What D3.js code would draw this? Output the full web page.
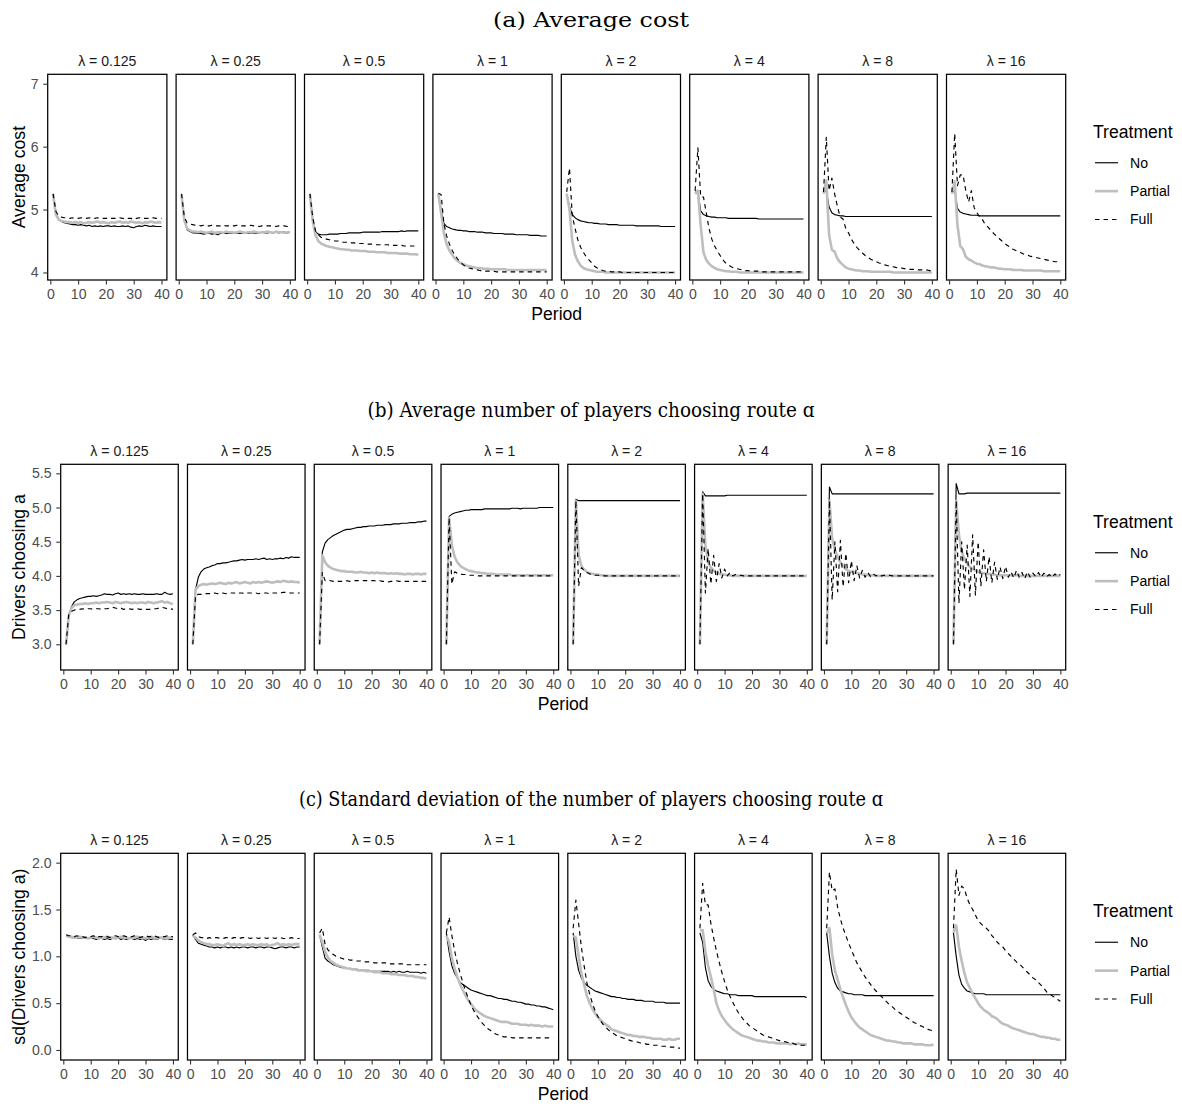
<!DOCTYPE html>
<html><head><meta charset="utf-8">
<script src="https://cdn.jsdelivr.net/npm/d3@7"></script>
<style>body{margin:0;background:#fff} svg{display:block}</style>
</head><body><svg id="chart" width="1182" height="1106"></svg>
<script>
const periods = [1,2,3,4,5,6,7,8,9,10,11,12,13,14,15,16,17,18,19,20,21,22,23,24,25,26,27,28,29,30,31,32,33,34,35,36,37,38,39,40];
const lambdaLabels = ["0.125","0.25","0.5","1","2","4","8","16"];
const treatments = ["No","Partial","Full"];
const xTicks = [0,10,20,30,40];
const yTicksCost = [4,5,6,7];
const yTicksChoice = [3.0,3.5,4.0,4.5,5.0,5.5];
const yTicksSd = [0.0,0.5,1.0,1.5,2.0];
const rowTitles = ["(a) Average cost","(b) Average number of players choosing route \u0251","(c) Standard deviation of the number of players choosing route \u0251"];
const yTitles = ["Average cost","Drivers choosing a","sd(Drivers choosing a)"];

// ---------- (a) Average cost ----------
const costNo = [
[5.25,4.95,4.85,4.81,4.79,4.78,4.77,4.76,4.76,4.75,4.76,4.75,4.74,4.75,4.73,4.74,4.73,4.74,4.73,4.74,4.74,4.73,4.74,4.73,4.73,4.74,4.73,4.74,4.72,4.71,4.73,4.74,4.73,4.75,4.74,4.73,4.74,4.73,4.73,4.73],
[5.25,4.85,4.68,4.65,4.63,4.63,4.62,4.62,4.61,4.62,4.62,4.61,4.62,4.60,4.62,4.63,4.62,4.62,4.63,4.62,4.63,4.62,4.63,4.63,4.62,4.63,4.63,4.62,4.63,4.64,4.63,4.63,4.64,4.63,4.64,4.63,4.64,4.64,4.63,4.64],
[5.25,4.85,4.65,4.61,4.60,4.60,4.60,4.61,4.61,4.61,4.61,4.62,4.62,4.62,4.63,4.63,4.63,4.63,4.63,4.64,4.64,4.64,4.64,4.64,4.64,4.64,4.65,4.65,4.65,4.65,4.65,4.65,4.65,4.66,4.65,4.66,4.66,4.66,4.66,4.66],
[5.25,5.00,4.78,4.73,4.71,4.69,4.68,4.67,4.67,4.66,4.66,4.65,4.65,4.65,4.64,4.64,4.64,4.63,4.63,4.63,4.62,4.62,4.62,4.62,4.61,4.61,4.61,4.61,4.60,4.60,4.60,4.60,4.60,4.59,4.59,4.59,4.59,4.58,4.58,4.58],
[5.25,5.05,4.92,4.87,4.84,4.82,4.81,4.80,4.79,4.79,4.78,4.78,4.77,4.77,4.77,4.76,4.76,4.76,4.76,4.75,4.75,4.75,4.75,4.75,4.75,4.74,4.74,4.74,4.74,4.74,4.74,4.74,4.74,4.74,4.73,4.73,4.73,4.73,4.73,4.73],
[5.30,5.28,4.98,4.92,4.90,4.89,4.88,4.88,4.87,4.87,4.87,4.87,4.86,4.86,4.86,4.86,4.86,4.86,4.86,4.86,4.86,4.86,4.86,4.85,4.85,4.85,4.85,4.85,4.85,4.85,4.85,4.85,4.85,4.85,4.85,4.85,4.85,4.85,4.85,4.85],
[5.27,5.30,5.04,4.95,4.92,4.91,4.90,4.90,4.89,4.89,4.89,4.89,4.89,4.89,4.89,4.89,4.89,4.89,4.89,4.89,4.89,4.89,4.89,4.89,4.89,4.89,4.89,4.89,4.89,4.89,4.89,4.89,4.89,4.89,4.89,4.89,4.89,4.89,4.89,4.89],
[5.27,5.30,5.02,4.96,4.94,4.93,4.92,4.91,4.91,4.91,4.90,4.90,4.90,4.90,4.90,4.90,4.90,4.90,4.90,4.90,4.90,4.90,4.90,4.90,4.90,4.90,4.90,4.90,4.90,4.90,4.90,4.90,4.90,4.90,4.90,4.90,4.90,4.90,4.90,4.90]
];
const costPartial = [
[5.24,4.92,4.84,4.82,4.81,4.80,4.80,4.79,4.80,4.79,4.80,4.78,4.79,4.80,4.79,4.80,4.81,4.79,4.80,4.79,4.78,4.80,4.79,4.80,4.81,4.79,4.80,4.79,4.81,4.80,4.79,4.80,4.78,4.80,4.79,4.81,4.80,4.79,4.80,4.79],
[5.24,4.83,4.70,4.67,4.65,4.65,4.64,4.65,4.64,4.63,4.64,4.65,4.63,4.64,4.64,4.63,4.65,4.64,4.64,4.63,4.64,4.65,4.64,4.63,4.64,4.64,4.65,4.64,4.63,4.64,4.64,4.65,4.64,4.63,4.65,4.64,4.64,4.63,4.64,4.64],
[5.24,4.82,4.60,4.50,4.46,4.44,4.42,4.41,4.40,4.39,4.38,4.37,4.37,4.36,4.36,4.35,4.35,4.35,4.34,4.34,4.34,4.33,4.33,4.33,4.32,4.32,4.32,4.32,4.31,4.31,4.31,4.31,4.30,4.30,4.30,4.30,4.29,4.29,4.29,4.28],
[5.25,4.95,4.62,4.45,4.35,4.28,4.22,4.18,4.15,4.13,4.11,4.10,4.09,4.08,4.07,4.07,4.06,4.06,4.06,4.05,4.05,4.05,4.05,4.05,4.05,4.04,4.04,4.04,4.04,4.04,4.04,4.04,4.04,4.04,4.04,4.04,4.04,4.04,4.04,4.04],
[5.25,5.00,4.50,4.28,4.18,4.11,4.07,4.05,4.04,4.03,4.02,4.01,4.01,4.01,4.00,4.00,4.00,4.00,4.00,4.00,4.00,4.00,4.00,4.00,4.00,4.00,4.00,4.00,4.00,4.00,4.00,4.00,4.00,4.00,4.00,4.00,4.00,4.00,4.00,4.00],
[5.25,5.30,4.75,4.32,4.20,4.14,4.10,4.07,4.05,4.04,4.03,4.02,4.02,4.01,4.01,4.01,4.00,4.00,4.00,4.00,4.00,4.00,4.00,4.00,4.00,4.00,4.00,4.00,4.00,4.00,4.00,4.00,4.00,4.00,4.00,4.00,4.00,4.00,4.00,4.00],
[5.25,5.46,4.60,4.36,4.33,4.22,4.16,4.12,4.08,4.06,4.05,4.04,4.03,4.03,4.02,4.02,4.02,4.01,4.01,4.01,4.01,4.01,4.01,4.01,4.01,4.00,4.00,4.00,4.00,4.00,4.00,4.00,4.00,4.00,4.00,4.00,4.00,4.00,4.00,4.00],
[5.25,5.45,4.75,4.42,4.37,4.25,4.21,4.19,4.16,4.14,4.13,4.11,4.10,4.09,4.08,4.08,4.07,4.06,4.06,4.05,4.05,4.05,4.04,4.04,4.04,4.04,4.03,4.03,4.03,4.03,4.03,4.03,4.03,4.02,4.02,4.02,4.02,4.02,4.02,4.02]
];
const costFull = [
[5.25,4.97,4.90,4.88,4.87,4.87,4.86,4.87,4.86,4.86,4.87,4.86,4.86,4.87,4.86,4.86,4.87,4.86,4.86,4.86,4.87,4.86,4.86,4.86,4.87,4.86,4.85,4.86,4.86,4.84,4.86,4.87,4.86,4.86,4.86,4.86,4.87,4.86,4.86,4.86],
[5.25,4.88,4.79,4.77,4.76,4.75,4.75,4.74,4.75,4.74,4.74,4.75,4.74,4.74,4.74,4.75,4.74,4.74,4.74,4.74,4.75,4.74,4.74,4.74,4.74,4.75,4.74,4.74,4.73,4.74,4.74,4.74,4.74,4.74,4.73,4.74,4.74,4.74,4.73,4.73],
[5.25,4.88,4.66,4.60,4.56,4.54,4.53,4.52,4.51,4.50,4.50,4.49,4.48,4.48,4.47,4.47,4.47,4.46,4.46,4.46,4.45,4.45,4.45,4.45,4.44,4.44,4.44,4.44,4.44,4.43,4.43,4.43,4.43,4.43,4.42,4.42,4.42,4.42,4.42,4.42],
[5.26,5.24,4.78,4.58,4.45,4.35,4.27,4.21,4.16,4.12,4.09,4.07,4.06,4.05,4.04,4.03,4.03,4.02,4.02,4.02,4.02,4.01,4.01,4.01,4.01,4.01,4.01,4.01,4.01,4.01,4.01,4.01,4.01,4.01,4.01,4.01,4.01,4.01,4.01,4.01],
[5.28,5.66,4.90,4.70,4.52,4.40,4.32,4.25,4.20,4.15,4.10,4.07,4.05,4.03,4.02,4.02,4.01,4.01,4.01,4.01,4.00,4.00,4.00,4.00,4.00,4.00,4.00,4.00,4.00,4.00,4.00,4.00,4.00,4.00,4.00,4.00,4.00,4.00,4.00,4.00],
[5.30,5.98,5.20,5.20,4.95,4.70,4.53,4.42,4.34,4.27,4.20,4.15,4.12,4.09,4.07,4.06,4.05,4.04,4.03,4.03,4.02,4.02,4.02,4.02,4.01,4.01,4.01,4.01,4.01,4.01,4.01,4.01,4.01,4.01,4.01,4.01,4.01,4.01,4.01,4.01],
[5.28,6.15,5.30,5.50,5.25,5.05,4.88,4.85,4.70,4.63,4.53,4.46,4.40,4.35,4.31,4.27,4.24,4.21,4.19,4.17,4.15,4.14,4.12,4.11,4.10,4.09,4.08,4.07,4.07,4.06,4.06,4.05,4.05,4.05,4.04,4.04,4.04,4.04,4.03,4.03],
[5.28,6.21,5.38,5.55,5.55,5.30,5.12,5.30,5.03,4.95,4.88,4.84,4.76,4.72,4.67,4.62,4.58,4.54,4.50,4.46,4.43,4.40,4.37,4.35,4.33,4.31,4.29,4.28,4.26,4.25,4.24,4.23,4.22,4.21,4.20,4.19,4.18,4.17,4.17,4.16]
];

// ---------- (b) Drivers choosing a ----------
const choiceNo = [
[3.00,3.42,3.55,3.62,3.65,3.67,3.68,3.69,3.70,3.70,3.71,3.70,3.71,3.72,3.74,3.73,3.73,3.72,3.74,3.75,3.73,3.74,3.73,3.74,3.73,3.74,3.73,3.73,3.74,3.73,3.73,3.73,3.73,3.74,3.73,3.73,3.76,3.74,3.73,3.74],
[3.00,3.80,3.98,4.06,4.10,4.12,4.13,4.15,4.16,4.18,4.18,4.19,4.19,4.20,4.21,4.22,4.22,4.23,4.24,4.23,4.24,4.24,4.24,4.25,4.24,4.25,4.26,4.24,4.25,4.24,4.25,4.25,4.26,4.25,4.27,4.26,4.28,4.27,4.27,4.27],
[3.00,4.35,4.48,4.53,4.56,4.59,4.61,4.63,4.65,4.67,4.68,4.68,4.69,4.70,4.71,4.71,4.72,4.72,4.73,4.73,4.73,4.74,4.74,4.74,4.75,4.75,4.75,4.76,4.76,4.76,4.77,4.77,4.77,4.78,4.78,4.78,4.79,4.79,4.80,4.80],
[3.00,4.87,4.90,4.92,4.93,4.94,4.95,4.96,4.96,4.97,4.97,4.97,4.97,4.97,4.98,4.98,4.98,4.98,4.98,4.98,4.98,4.98,4.98,4.98,4.99,4.99,4.99,4.98,4.99,4.99,4.99,4.99,4.99,4.99,5.00,5.00,5.00,5.00,5.00,5.00],
[3.00,5.12,5.10,5.10,5.10,5.10,5.10,5.10,5.10,5.10,5.10,5.10,5.10,5.10,5.10,5.10,5.10,5.10,5.10,5.10,5.10,5.10,5.10,5.10,5.10,5.10,5.10,5.10,5.10,5.10,5.10,5.10,5.10,5.10,5.10,5.10,5.10,5.10,5.10,5.10],
[3.00,5.23,5.17,5.17,5.17,5.17,5.17,5.17,5.17,5.17,5.18,5.18,5.18,5.18,5.18,5.18,5.18,5.18,5.18,5.18,5.18,5.18,5.18,5.18,5.18,5.18,5.18,5.18,5.18,5.18,5.18,5.18,5.18,5.18,5.18,5.18,5.18,5.18,5.18,5.18],
[3.00,5.30,5.20,5.20,5.20,5.20,5.20,5.20,5.20,5.20,5.20,5.20,5.20,5.20,5.20,5.20,5.20,5.20,5.20,5.20,5.20,5.20,5.20,5.20,5.20,5.20,5.20,5.20,5.20,5.20,5.20,5.20,5.20,5.20,5.20,5.20,5.20,5.20,5.20,5.20],
[3.00,5.35,5.20,5.20,5.20,5.21,5.21,5.21,5.21,5.21,5.21,5.21,5.21,5.21,5.21,5.21,5.21,5.21,5.21,5.21,5.21,5.21,5.21,5.21,5.21,5.21,5.21,5.21,5.21,5.21,5.21,5.21,5.21,5.21,5.21,5.21,5.21,5.21,5.21,5.21]
];
const choicePartial = [
[3.00,3.42,3.53,3.57,3.58,3.59,3.59,3.60,3.59,3.60,3.60,3.61,3.60,3.61,3.61,3.62,3.61,3.60,3.62,3.61,3.60,3.61,3.62,3.61,3.60,3.61,3.60,3.61,3.61,3.60,3.62,3.61,3.60,3.61,3.62,3.63,3.61,3.62,3.60,3.59],
[3.00,3.80,3.85,3.87,3.88,3.87,3.88,3.89,3.88,3.89,3.90,3.89,3.88,3.90,3.89,3.90,3.91,3.89,3.90,3.91,3.90,3.89,3.91,3.90,3.91,3.90,3.91,3.92,3.91,3.90,3.91,3.92,3.91,3.93,3.92,3.91,3.92,3.91,3.91,3.90],
[3.00,4.30,4.20,4.15,4.12,4.10,4.09,4.08,4.07,4.07,4.06,4.06,4.06,4.05,4.05,4.06,4.05,4.05,4.04,4.05,4.04,4.05,4.04,4.04,4.04,4.03,4.04,4.03,4.04,4.03,4.03,4.02,4.03,4.03,4.02,4.03,4.03,4.02,4.03,4.03],
[3.00,4.85,4.45,4.28,4.20,4.15,4.12,4.10,4.08,4.07,4.06,4.05,4.05,4.04,4.04,4.03,4.03,4.03,4.02,4.02,4.02,4.02,4.02,4.02,4.01,4.01,4.01,4.01,4.01,4.01,4.01,4.01,4.01,4.01,4.01,4.01,4.01,4.01,4.01,4.01],
[3.00,5.10,4.30,4.15,4.09,4.06,4.04,4.03,4.02,4.02,4.01,4.01,4.00,4.00,4.00,4.00,4.00,4.00,4.00,4.00,4.00,4.00,4.00,4.00,4.00,4.00,4.00,4.00,4.00,4.00,4.00,4.00,4.00,4.00,4.00,4.00,4.00,4.00,4.00,4.00],
[3.00,5.20,4.45,4.20,4.12,4.08,4.05,4.03,4.02,4.02,4.01,4.01,4.00,4.00,4.00,4.00,4.00,4.00,4.00,4.00,4.00,4.00,4.00,4.00,4.00,4.00,4.00,4.00,4.00,4.00,4.00,4.00,4.00,4.00,4.00,4.00,4.00,4.00,4.00,4.00],
[3.00,5.10,4.55,4.38,4.28,4.20,4.14,4.10,4.07,4.06,4.05,4.04,4.03,4.02,4.02,4.01,4.01,4.01,4.00,4.00,4.00,4.00,4.00,4.00,4.00,4.00,4.00,4.00,4.00,4.00,4.00,4.00,4.00,4.00,4.00,4.00,4.00,4.00,4.00,4.00],
[3.00,5.10,4.60,4.35,4.25,4.18,4.13,4.10,4.08,4.06,4.05,4.04,4.03,4.03,4.02,4.02,4.01,4.01,4.01,4.01,4.01,4.01,4.01,4.01,4.01,4.00,4.00,4.00,4.00,4.00,4.00,4.00,4.00,4.00,4.00,4.00,4.00,4.00,4.00,4.00]
];
const choiceFull = [
[3.00,3.44,3.48,3.50,3.51,3.51,3.52,3.51,3.52,3.52,3.51,3.52,3.52,3.51,3.52,3.52,3.53,3.54,3.53,3.52,3.53,3.51,3.52,3.52,3.51,3.52,3.52,3.51,3.51,3.51,3.51,3.51,3.52,3.52,3.53,3.54,3.53,3.52,3.52,3.51],
[3.00,3.72,3.73,3.73,3.74,3.74,3.74,3.74,3.75,3.74,3.74,3.75,3.74,3.75,3.75,3.75,3.74,3.75,3.75,3.74,3.75,3.75,3.75,3.75,3.74,3.75,3.75,3.75,3.74,3.75,3.75,3.75,3.75,3.76,3.76,3.75,3.75,3.75,3.75,3.75],
[3.00,4.05,3.93,3.94,3.93,3.92,3.93,3.92,3.92,3.92,3.93,3.92,3.92,3.93,3.93,3.94,3.93,3.93,3.93,3.93,3.93,3.92,3.93,3.92,3.92,3.91,3.92,3.92,3.93,3.92,3.92,3.92,3.92,3.92,3.92,3.92,3.92,3.92,3.92,3.92],
[3.00,4.85,3.88,4.06,4.04,4.03,4.02,4.02,4.01,4.01,4.01,4.00,4.00,4.00,4.00,4.00,4.00,4.00,4.00,4.00,4.00,4.00,4.00,4.00,4.00,4.00,4.00,4.00,4.00,4.00,4.00,4.00,4.00,4.00,4.00,4.00,4.00,4.00,4.00,4.00],
[3.00,5.10,3.85,4.12,4.08,4.05,4.03,4.02,4.01,4.01,4.00,4.00,4.00,4.00,4.00,4.00,4.00,4.00,4.00,4.00,4.00,4.00,4.00,4.00,4.00,4.00,4.00,4.00,4.00,4.00,4.00,4.00,4.00,4.00,4.00,4.00,4.00,4.00,4.00,4.00],
[3.00,5.20,3.75,4.40,3.88,4.30,3.92,4.18,3.97,4.10,4.00,4.05,4.00,4.02,4.00,4.01,4.00,4.00,4.00,4.00,4.00,4.00,4.00,4.00,4.00,4.00,4.00,4.00,4.00,4.00,4.00,4.00,4.00,4.00,4.00,4.00,4.00,4.00,4.00,4.00],
[3.00,5.10,3.65,4.50,3.77,4.52,3.84,4.33,3.90,4.22,3.93,4.15,3.97,4.08,3.98,4.05,3.99,4.03,4.00,4.02,4.00,4.01,4.00,4.01,4.00,4.00,4.00,4.00,4.00,4.00,4.00,4.00,4.00,4.00,4.00,4.00,4.00,4.00,4.00,4.00],
[3.00,5.10,3.60,4.50,3.80,4.45,3.70,4.60,3.72,4.50,3.85,4.38,3.92,4.28,3.90,4.20,3.95,4.13,3.96,4.14,3.98,4.06,3.97,4.08,3.98,4.05,3.96,4.06,3.98,4.04,3.99,4.05,3.98,4.04,3.99,4.02,3.98,4.03,3.99,4.02]
];

// ---------- (c) sd(Drivers choosing a) ----------
const sdNo = [
[1.22,1.21,1.20,1.20,1.19,1.20,1.19,1.19,1.19,1.20,1.19,1.18,1.19,1.19,1.18,1.19,1.18,1.19,1.19,1.20,1.18,1.19,1.18,1.19,1.19,1.18,1.19,1.18,1.19,1.17,1.19,1.18,1.19,1.18,1.19,1.19,1.18,1.19,1.18,1.18],
[1.23,1.18,1.14,1.13,1.12,1.11,1.10,1.10,1.09,1.10,1.09,1.10,1.10,1.09,1.10,1.09,1.10,1.09,1.10,1.10,1.09,1.10,1.10,1.09,1.10,1.10,1.09,1.10,1.10,1.09,1.08,1.09,1.10,1.10,1.09,1.10,1.10,1.09,1.10,1.10],
[1.23,1.10,0.98,0.95,0.93,0.91,0.90,0.89,0.88,0.88,0.87,0.87,0.86,0.86,0.86,0.85,0.85,0.85,0.85,0.84,0.84,0.84,0.84,0.84,0.84,0.84,0.83,0.84,0.83,0.84,0.83,0.83,0.84,0.83,0.83,0.83,0.83,0.82,0.83,0.82],
[1.25,1.05,0.90,0.82,0.77,0.72,0.70,0.68,0.66,0.64,0.63,0.62,0.61,0.60,0.59,0.58,0.58,0.57,0.56,0.55,0.55,0.54,0.54,0.53,0.52,0.52,0.51,0.51,0.50,0.49,0.49,0.48,0.48,0.47,0.47,0.46,0.46,0.45,0.44,0.43],
[1.25,1.00,0.85,0.77,0.72,0.69,0.67,0.65,0.63,0.62,0.61,0.60,0.59,0.58,0.57,0.57,0.56,0.56,0.55,0.55,0.54,0.54,0.54,0.53,0.53,0.53,0.52,0.52,0.52,0.52,0.51,0.51,0.51,0.51,0.50,0.50,0.50,0.50,0.50,0.50],
[1.25,1.15,0.88,0.74,0.68,0.65,0.63,0.62,0.61,0.60,0.60,0.59,0.59,0.59,0.58,0.58,0.58,0.58,0.58,0.58,0.57,0.57,0.57,0.57,0.57,0.57,0.57,0.57,0.57,0.57,0.57,0.57,0.57,0.57,0.57,0.57,0.57,0.57,0.57,0.56],
[1.25,1.00,0.82,0.72,0.66,0.63,0.62,0.61,0.60,0.60,0.59,0.59,0.59,0.59,0.58,0.58,0.58,0.58,0.58,0.58,0.58,0.58,0.58,0.58,0.58,0.58,0.58,0.58,0.58,0.58,0.58,0.58,0.58,0.58,0.58,0.58,0.58,0.58,0.58,0.58],
[1.25,1.00,0.80,0.70,0.66,0.63,0.62,0.61,0.60,0.60,0.60,0.60,0.59,0.59,0.59,0.59,0.59,0.59,0.59,0.59,0.59,0.59,0.59,0.59,0.59,0.59,0.59,0.59,0.59,0.59,0.59,0.59,0.59,0.59,0.59,0.59,0.59,0.59,0.59,0.59]
];
const sdPartial = [
[1.22,1.21,1.21,1.20,1.20,1.21,1.20,1.20,1.19,1.20,1.21,1.20,1.19,1.20,1.20,1.21,1.20,1.20,1.19,1.20,1.21,1.20,1.20,1.19,1.20,1.20,1.21,1.20,1.20,1.19,1.20,1.21,1.20,1.19,1.20,1.20,1.19,1.20,1.20,1.20],
[1.22,1.20,1.17,1.15,1.14,1.13,1.13,1.12,1.12,1.13,1.12,1.11,1.13,1.14,1.12,1.13,1.12,1.13,1.12,1.12,1.13,1.12,1.13,1.12,1.12,1.13,1.12,1.13,1.11,1.12,1.13,1.14,1.12,1.13,1.12,1.13,1.12,1.13,1.13,1.13],
[1.23,1.15,1.05,0.99,0.95,0.93,0.91,0.90,0.89,0.88,0.87,0.87,0.86,0.86,0.85,0.85,0.85,0.84,0.84,0.84,0.83,0.83,0.83,0.82,0.82,0.82,0.81,0.81,0.81,0.80,0.80,0.80,0.79,0.79,0.79,0.78,0.78,0.77,0.77,0.76],
[1.22,1.15,0.98,0.87,0.78,0.70,0.64,0.58,0.53,0.49,0.45,0.42,0.40,0.38,0.36,0.35,0.34,0.33,0.32,0.31,0.30,0.30,0.30,0.29,0.28,0.28,0.28,0.27,0.27,0.27,0.26,0.27,0.26,0.26,0.26,0.25,0.26,0.25,0.25,0.25],
[1.22,1.20,1.00,0.82,0.70,0.58,0.50,0.44,0.39,0.35,0.32,0.29,0.27,0.25,0.22,0.21,0.20,0.19,0.18,0.17,0.16,0.16,0.15,0.15,0.14,0.14,0.14,0.13,0.13,0.12,0.12,0.12,0.12,0.11,0.11,0.12,0.11,0.11,0.12,0.12],
[1.28,1.28,1.05,0.90,0.78,0.65,0.50,0.42,0.36,0.32,0.28,0.25,0.22,0.20,0.18,0.16,0.15,0.14,0.13,0.12,0.11,0.10,0.10,0.09,0.09,0.08,0.08,0.08,0.07,0.07,0.07,0.07,0.07,0.06,0.07,0.06,0.07,0.06,0.06,0.06],
[1.25,1.30,1.02,0.85,0.75,0.65,0.56,0.48,0.41,0.35,0.31,0.27,0.24,0.22,0.20,0.18,0.16,0.15,0.14,0.13,0.12,0.11,0.10,0.10,0.09,0.09,0.08,0.08,0.07,0.07,0.07,0.07,0.06,0.06,0.06,0.06,0.05,0.05,0.05,0.06],
[1.25,1.33,1.10,0.95,0.82,0.72,0.66,0.60,0.55,0.50,0.46,0.43,0.41,0.39,0.36,0.35,0.33,0.30,0.28,0.27,0.26,0.24,0.23,0.22,0.21,0.20,0.19,0.18,0.17,0.17,0.16,0.15,0.14,0.14,0.13,0.13,0.12,0.12,0.11,0.11]
];
const sdFull = [
[1.23,1.22,1.22,1.21,1.22,1.21,1.21,1.20,1.21,1.21,1.22,1.20,1.21,1.21,1.22,1.21,1.20,1.21,1.22,1.21,1.21,1.22,1.21,1.20,1.21,1.22,1.21,1.20,1.21,1.22,1.21,1.21,1.22,1.21,1.20,1.21,1.21,1.22,1.21,1.21],
[1.23,1.25,1.21,1.20,1.20,1.19,1.20,1.19,1.20,1.20,1.19,1.19,1.20,1.20,1.19,1.20,1.20,1.19,1.20,1.20,1.20,1.19,1.20,1.20,1.19,1.20,1.20,1.19,1.20,1.20,1.19,1.20,1.20,1.19,1.19,1.19,1.20,1.19,1.19,1.19],
[1.25,1.30,1.13,1.07,1.04,1.02,1.00,0.99,0.98,0.97,0.97,0.96,0.96,0.95,0.95,0.95,0.94,0.94,0.94,0.94,0.93,0.93,0.93,0.93,0.93,0.92,0.92,0.92,0.92,0.92,0.92,0.92,0.91,0.91,0.91,0.91,0.91,0.91,0.91,0.91],
[1.25,1.42,1.22,1.06,0.93,0.82,0.72,0.63,0.55,0.48,0.42,0.37,0.33,0.29,0.26,0.23,0.21,0.19,0.17,0.16,0.15,0.14,0.14,0.14,0.13,0.13,0.13,0.13,0.13,0.13,0.13,0.13,0.13,0.13,0.13,0.13,0.13,0.13,0.13,0.13],
[1.30,1.60,1.35,1.10,0.90,0.72,0.60,0.50,0.42,0.36,0.31,0.27,0.24,0.21,0.19,0.17,0.15,0.14,0.13,0.12,0.11,0.10,0.09,0.09,0.08,0.07,0.07,0.06,0.06,0.05,0.05,0.05,0.04,0.04,0.04,0.03,0.03,0.03,0.02,0.02],
[1.30,1.78,1.55,1.55,1.35,1.20,1.06,0.94,0.83,0.73,0.64,0.57,0.51,0.45,0.40,0.36,0.32,0.29,0.26,0.24,0.22,0.20,0.18,0.16,0.15,0.14,0.13,0.12,0.11,0.10,0.09,0.09,0.08,0.07,0.07,0.06,0.06,0.05,0.05,0.05],
[1.30,1.90,1.70,1.72,1.52,1.40,1.30,1.22,1.14,1.07,1.00,0.93,0.88,0.83,0.78,0.74,0.70,0.66,0.63,0.60,0.57,0.54,0.51,0.48,0.46,0.43,0.41,0.39,0.37,0.35,0.33,0.31,0.29,0.28,0.26,0.25,0.23,0.22,0.21,0.20],
[1.30,1.93,1.65,1.75,1.72,1.62,1.55,1.50,1.44,1.38,1.35,1.32,1.30,1.27,1.22,1.19,1.15,1.12,1.10,1.06,1.03,1.00,0.97,0.94,0.92,0.89,0.86,0.83,0.80,0.77,0.75,0.72,0.69,0.66,0.62,0.60,0.58,0.56,0.54,0.52]
];

// ---------- drawing ----------
const SANS = "'Liberation Sans', Arial, Helvetica, sans-serif";
const SERIF = "'DejaVu Serif', serif";
const styles = {
  No:      {stroke:"#000000", width:1.15, dash:null},
  Partial: {stroke:"#BEBEBE", width:2.6,  dash:null},
  Full:    {stroke:"#000000", width:1.15, dash:"4.5,4"}
};
const svg = d3.select("#chart");
svg.append("rect").attr("width",1182).attr("height",1106).attr("fill","#fff");

const rows = [
  {title:rowTitles[0], titleW:196, yTitle:yTitles[0], series:{No:costNo, Partial:costPartial, Full:costFull},
   yDomain:[3.88,7.15], yTicks:yTicksCost, fmt:d3.format("d"), top:74.3, bottom:280, left:47.7, right:1065.7},
  {title:rowTitles[1], titleW:447, yTitle:yTitles[1], series:{No:choiceNo, Partial:choicePartial, Full:choiceFull},
   yDomain:[2.624,5.632], yTicks:yTicksChoice, fmt:d3.format(".1f"), top:464.3, bottom:670, left:60.7, right:1065.7},
  {title:rowTitles[2], titleW:584, yTitle:yTitles[2], series:{No:sdNo, Partial:sdPartial, Full:sdFull},
   yDomain:[-0.107,2.1], yTicks:yTicksSd, fmt:d3.format(".1f"), top:853.3, bottom:1060, left:60.7, right:1065.7}
];

function drawRow(cfg){
  const g = svg.append("g");
  const n = lambdaLabels.length;
  const gap = 9.2;
  const pw = (cfg.right - cfg.left - gap*(n-1))/n;
  const y = d3.scaleLinear().domain(cfg.yDomain).range([cfg.bottom, cfg.top]);

  g.append("text").attr("x",591).attr("y",cfg.top-47.8).attr("text-anchor","middle")
    .attr("font-family",SERIF).attr("font-size",20).attr("fill","#000")
    .attr("textLength",cfg.titleW).attr("lengthAdjust","spacingAndGlyphs").text(cfg.title);

  lambdaLabels.forEach((lab,p)=>{
    const x0 = cfg.left + p*(pw+gap);
    const x = d3.scaleLinear().domain([-0.95,41.95]).range([x0, x0+pw]);
    g.append("text").attr("x",x0+pw/2).attr("y",cfg.top-13).attr("dy","0.35em")
      .attr("text-anchor","middle").attr("font-family",SANS).attr("font-size",14.08)
      .attr("fill","#1A1A1A").text("\u03bb = " + lab);

    treatments.forEach(tr=>{
      const st = styles[tr];
      const line = d3.line().x((d,i)=>x(periods[i])).y(d=>y(d));
      const path = g.append("path").datum(cfg.series[tr][p]).attr("d",line)
        .attr("fill","none").attr("stroke",st.stroke).attr("stroke-width",st.width)
        .attr("stroke-linejoin","round");
      if(st.dash) path.attr("stroke-dasharray",st.dash);
    });

    g.append("rect").attr("x",x0).attr("y",cfg.top).attr("width",pw).attr("height",cfg.bottom-cfg.top)
      .attr("fill","none").attr("stroke","#000").attr("stroke-width",1.25);

    const ax = g.append("g").attr("transform",`translate(0,${cfg.bottom})`)
      .call(d3.axisBottom(x).tickValues(xTicks).tickSize(4.4).tickPadding(4.8).tickFormat(d3.format("d")));
    ax.select(".domain").remove();
    ax.attr("font-size",14.08).attr("font-family",SANS);
    ax.selectAll(".tick line").attr("stroke","#333333").attr("stroke-width",1.1);
    ax.selectAll(".tick text").attr("fill","#4D4D4D");

    if(p===0){
      const ay = g.append("g").attr("transform",`translate(${x0},0)`)
        .call(d3.axisLeft(y).tickValues(cfg.yTicks).tickSize(4.4).tickPadding(4.8).tickFormat(cfg.fmt));
      ay.select(".domain").remove();
      ay.attr("font-size",14.08).attr("font-family",SANS);
      ay.selectAll(".tick line").attr("stroke","#333333").attr("stroke-width",1.1);
      ay.selectAll(".tick text").attr("fill","#4D4D4D");
    }
  });

  const cy = (cfg.top+cfg.bottom)/2;
  g.append("text").attr("transform",`translate(24.5,${cy}) rotate(-90)`).attr("text-anchor","middle")
    .attr("font-family",SANS).attr("font-size",17.6).attr("fill","#000").text(cfg.yTitle);
  g.append("text").attr("x",(cfg.left+cfg.right)/2).attr("y",cfg.bottom+40).attr("text-anchor","middle")
    .attr("font-family",SANS).attr("font-size",17.6).attr("fill","#000").text("Period");

  // legend
  g.append("text").attr("x",1093).attr("y",cy-45.5).attr("dy","0.35em")
    .attr("font-family",SANS).attr("font-size",17.6).attr("fill","#000").text("Treatment");
  const offs = [-14.4, 14, 42.3];
  treatments.forEach((tr,i)=>{
    const st = styles[tr];
    const ly = cy + offs[i];
    const l = g.append("line").attr("x1",1095).attr("x2",1118).attr("y1",ly).attr("y2",ly)
      .attr("stroke",st.stroke).attr("stroke-width",st.width);
    if(st.dash) l.attr("stroke-dasharray",st.dash);
    g.append("text").attr("x",1130).attr("y",ly).attr("dy","0.35em")
      .attr("font-family",SANS).attr("font-size",14.08).attr("fill","#000").text(tr);
  });
}
rows.forEach(drawRow);
</script>
</body></html>
